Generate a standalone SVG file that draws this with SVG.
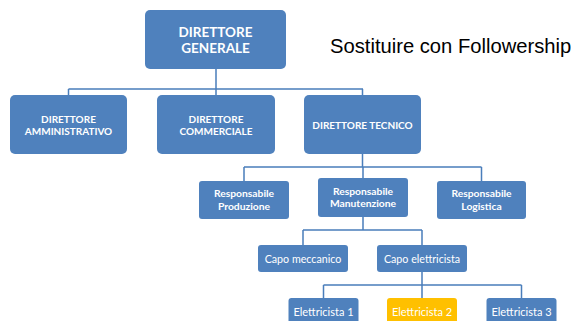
<svg xmlns="http://www.w3.org/2000/svg" width="574" height="321" viewBox="0 0 574 321">
<style>
.box{fill:#4F81BD;}
.yel{fill:#FFC000;}
.t{fill:#FFFFFF;font-family:Lato,"Liberation Sans",sans-serif;text-anchor:middle;}
.b{font-weight:bold;}
.conn path{fill:none;stroke:#4A7EBB;stroke-width:1.5;}
.note{font-family:"Liberation Sans",Arial,sans-serif;font-size:20.2px;fill:#000000;}
</style>
<rect width="574" height="321" fill="#FFFFFF"/>
<g id="connectors" class="conn">
<path d="M216,69 V89 M68.5,89 H363 M68.5,89 V95 M216,89 V95 M362.5,89 V95"/>
<path d="M362.5,154 V167 M244,167 H481.5 M244,167 V181 M363,167 V178 M481.5,167 V181"/>
<path d="M363,217 V230 M303,230 H422 M303,230 V245 M422,230 V245"/>
<path d="M422,272 V285 M323.5,285 H521.5 M323.5,285 V298 M422,285 V298 M521.5,285 V298"/>
</g>
<g id="direttore-generale">
<rect class="box" x="145" y="10" width="141" height="59" rx="5"/>
<text class="t b" x="215.5" y="36.5" font-size="13.5">DIRETTORE</text>
<text class="t b" x="215.5" y="52.5" font-size="13.5">GENERALE</text>
</g>
<g id="direttore-amministrativo">
<rect class="box" x="10" y="95" width="117" height="59" rx="5"/>
<text class="t b" x="68.5" y="122.5" font-size="10">DIRETTORE</text>
<text class="t b" x="68.5" y="135" font-size="10">AMMINISTRATIVO</text>
</g>
<g id="direttore-commerciale">
<rect class="box" x="157" y="95" width="118" height="59" rx="5"/>
<text class="t b" x="216" y="122.5" font-size="10">DIRETTORE</text>
<text class="t b" x="216" y="135" font-size="10">COMMERCIALE</text>
</g>
<g id="direttore-tecnico">
<rect class="box" x="304" y="95" width="117" height="59" rx="5"/>
<text class="t b" x="362.5" y="128.5" font-size="10">DIRETTORE TECNICO</text>
</g>
<g id="responsabile-produzione">
<rect class="box" x="199" y="181" width="90" height="38" rx="3"/>
<text class="t b" x="244" y="196.5" font-size="10.3">Responsabile</text>
<text class="t b" x="244" y="209.5" font-size="10.3">Produzione</text>
</g>
<g id="responsabile-manutenzione">
<rect class="box" x="318" y="178" width="90" height="39" rx="3"/>
<text class="t b" x="363" y="194.5" font-size="10.3">Responsabile</text>
<text class="t b" x="363" y="207" font-size="10.3">Manutenzione</text>
</g>
<g id="responsabile-logistica">
<rect class="box" x="437" y="181" width="89" height="38" rx="3"/>
<text class="t b" x="481.5" y="196.5" font-size="10.3">Responsabile</text>
<text class="t b" x="481.5" y="209.5" font-size="10.3">Logistica</text>
</g>
<g id="capo-meccanico">
<rect class="box" x="258" y="245" width="90" height="27" rx="3"/>
<text class="t" x="303" y="262.5" font-size="10.7">Capo meccanico</text>
</g>
<g id="capo-elettricista">
<rect class="box" x="377" y="245" width="90" height="27" rx="3"/>
<text class="t" x="422" y="262.5" font-size="10.7">Capo elettricista</text>
</g>
<g id="elettricista-1">
<rect class="box" x="288.5" y="298" width="70" height="28" rx="3"/>
<text class="t" x="323.5" y="316" font-size="11">Elettricista 1</text>
</g>
<g id="elettricista-2">
<rect class="yel" x="387" y="298" width="70" height="28" rx="3"/>
<text class="t" x="422" y="316" font-size="11">Elettricista 2</text>
</g>
<g id="elettricista-3">
<rect class="box" x="486.5" y="298" width="70" height="28" rx="3"/>
<text class="t" x="521.5" y="316" font-size="11">Elettricista 3</text>
</g>
<text class="note" x="330" y="52.5">Sostituire con Followership</text>
</svg>
